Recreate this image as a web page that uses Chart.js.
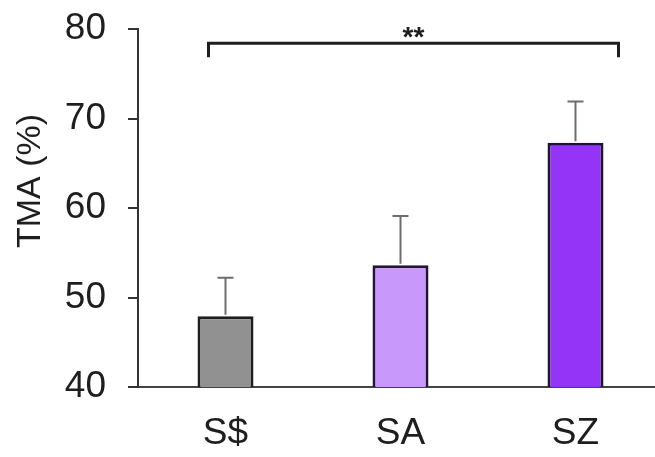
<!DOCTYPE html>
<html>
<head>
<meta charset="utf-8">
<script src="https://cdn.jsdelivr.net/npm/chart.js@4/dist/chart.umd.min.js"></script>
<style>
  html, body { margin: 0; background: #fff; overflow: hidden; }
  /* x axis runs a little past the right edge in the original figure */
  #wrap { width: 655px; height: 457px; overflow: hidden; }
</style>
</head>
<body>
<div id="wrap"><canvas id="chart" width="663" height="457"></canvas></div>
<script>
const groups = ['S$', 'SA', 'SZ'];
const tmaMeans = [47.9, 53.6, 67.3];
const tmaErrors = [4.3, 5.5, 4.6];
const barColors = ['#919191', '#c898fb', '#9334f6'];
const barBorders = ['#1e1e1e', '#24123a', '#22103c'];
const yTicks = [40, 50, 60, 70, 80];
// significance bracket between first and last group
const sigLabel = '**';
const sigLevel = 78.4;

// upward error bars + bracket + rotated y title
const extras = {
  id: 'extras',
  afterDatasetsDraw(chart) {
    const ctx = chart.ctx;
    const x = chart.scales.x;
    const y = chart.scales.y;
    const meta = chart.getDatasetMeta(0);

    ctx.save();
    ctx.strokeStyle = '#6e6e6e';
    ctx.lineWidth = 2;
    meta.data.forEach((bar, i) => {
      const top = y.getPixelForValue(tmaMeans[i] + tmaErrors[i]);
      ctx.beginPath();
      ctx.moveTo(bar.x, bar.y - 1.5);
      ctx.lineTo(bar.x, top);
      ctx.moveTo(bar.x - 8, top);
      ctx.lineTo(bar.x + 8, top);
      ctx.stroke();
    });

    // bracket
    const x1 = x.getPixelForValue(0) - 17;
    const x2 = x.getPixelForValue(2) + 43;
    const yb = y.getPixelForValue(sigLevel);
    ctx.strokeStyle = '#1e1e1e';
    ctx.lineWidth = 3;
    ctx.beginPath();
    ctx.moveTo(x1, yb + 14);
    ctx.lineTo(x1, yb);
    ctx.lineTo(x2, yb);
    ctx.lineTo(x2, yb + 14);
    ctx.stroke();

    ctx.fillStyle = '#1e1e1e';
    ctx.font = 'bold 28px "Liberation Sans", Arial, sans-serif';
    ctx.textAlign = 'center';
    ctx.textBaseline = 'alphabetic';
    ctx.fillText(sigLabel, (x1 + x2) / 2, yb + 3);

    // y axis title
    ctx.translate(31, chart.chartArea.top + 152);
    ctx.rotate(-Math.PI / 2);
    ctx.font = '34px "Liberation Sans", Arial, sans-serif';
    ctx.textBaseline = 'middle';
    ctx.fillText('TMA (%)', 0, 0);
    ctx.restore();
  }
};

new Chart(document.getElementById('chart'), {
  type: 'bar',
  data: {
    labels: groups,
    datasets: [{
      data: tmaMeans,
      backgroundColor: barColors,
      borderColor: barBorders,
      borderWidth: 3,
      barPercentage: 0.32,
      categoryPercentage: 1
    }]
  },
  options: {
    responsive: false,
    animation: false,
    layout: { padding: { left: 64, top: 29, right: 0, bottom: 0 } },
    plugins: { legend: { display: false }, tooltip: { enabled: false } },
    scales: {
      x: {
        afterFit(axis) {
          axis.height = 70;
          axis.paddingLeft = 0;
          axis.paddingRight = 0;
        },
        grid: { display: false, drawTicks: false },
        border: { color: '#444', width: 2 },
        ticks: {
          padding: 25,
          color: '#1e1e1e',
          font: { family: '"Liberation Sans", Arial, sans-serif', size: 37 }
        }
      },
      y: {
        min: 40,
        max: 80,
        afterBuildTicks(axis) { axis.ticks = yTicks.map(v => ({ value: v })); },
        afterFit(axis) {
          axis.width = 74;
          axis.paddingTop = 0;
          axis.paddingBottom = 0;
        },
        grid: { drawOnChartArea: false, drawTicks: true, tickLength: 10, color: '#333', lineWidth: 2 },
        border: { color: '#333', width: 2 },
        ticks: {
          padding: 22,
          color: '#1e1e1e',
          font: { family: '"Liberation Sans", Arial, sans-serif', size: 37 }
        }
      }
    }
  },
  plugins: [extras]
});
</script>
</body>
</html>
